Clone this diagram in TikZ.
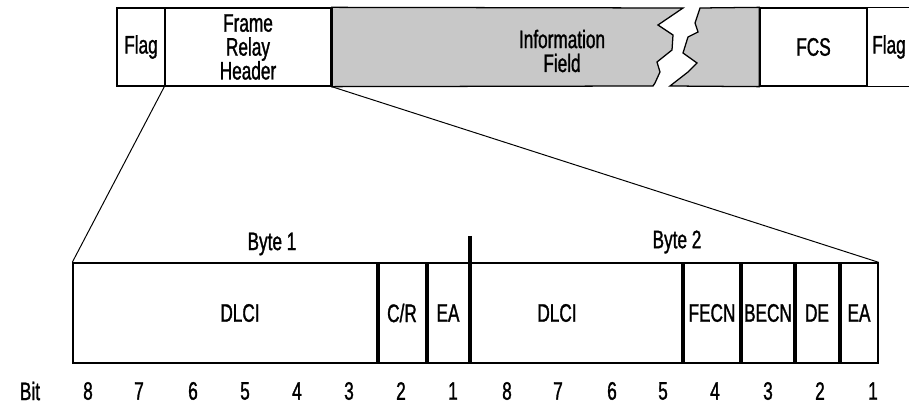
\documentclass[tikz,border=0pt]{standalone}
\usepackage{fontspec}
\setmainfont{Liberation Sans}[FakeStretch=0.68, FakeBold=1.2]
\usepackage{xcolor}
\usepackage{tikz}

\definecolor{infogray}{RGB}{200,200,200}

\begin{document}
\begin{tikzpicture}[
    x=0.025cm, y=-0.025cm,
    font=\fontsize{18}{17}\selectfont,
    every node/.style={inner sep=0pt},
    outline/.style={line width=0.9pt},
    field/.style={draw, outline, minimum height=1.95cm, align=center},
    infofill/.style={fill=infogray, draw, outline},
    cellrule/.style={line width=2.2pt},
    zoomline/.style={line width=0.7pt},
    bytelbl/.style={anchor=center},
]
\useasboundingbox (0,0) rectangle (909,406);

% --------- Frame row (top) ----------
\node[field, minimum width=1.2cm]   (flag1) at (141,47)   {Flag};
\node[field, minimum width=4.15cm]  (hdr)   at (248,47)   {Frame\\Relay\\Header};
\node[field, minimum width=2.675cm] (fcs)   at (813.5,47) {FCS};
\draw[outline] (fcs.north east) -- ++(70,0) (fcs.south east) -- ++(70,0);
\node (flag2) at (889,47) {Flag};

% information field, broken in two
\filldraw[infofill] (hdr.north east) -- (683,8) -- (658,25) -- (673,35) -- (672,50)
      -- (657,62) -- (660,72) -- (655,83) -- (653,86) -- (hdr.south east) -- cycle;
\filldraw[infofill] (700,8) -- (fcs.north west) -- (fcs.south west) -- (670,86)
      -- (688,72) -- (697,63) -- (683,53) -- (688,37) -- (698,32) -- (695,23) -- cycle;
\node[align=center] (info) at (562,51) {Information\\Field};
\draw[cellrule] (hdr.north east) -- (hdr.south east);

% --------- Header bits (bottom) ----------
\node[draw, outline, minimum width=20.125cm, minimum height=2.5cm] (bits) at (475.5,313) {};
\foreach \xx in {378,427,470,683,741,795,840}
  \draw[cellrule] (\xx,263) -- (\xx,363);
\draw[cellrule] (470,236) -- (470,263);

\draw[zoomline] (hdr.south west) -- (bits.north west);
\draw[zoomline] (hdr.south east) -- (bits.north east);

\node[bytelbl] (byte1) at (272,244) {Byte 1};
\node[bytelbl] (byte2) at (677,242) {Byte 2};

\foreach \xx/\txt [count=\i] in {240/DLCI, 402/{C/R}, 448/EA, 557/DLCI,
                                 712/FECN, 768/BECN, 817/DE, 859/EA}
  \node (cell\i) at (\xx,313) {\txt};

% --------- Bit numbers ----------
\node (bitlbl) at (30,391) {Bit};
\foreach \xx/\bit in {88/8, 139/7, 193/6, 245/5, 297/4, 349/3, 401/2, 453/1,
                      507/8, 558/7, 612/6, 663/5, 715/4, 768/3, 820/2, 873/1}
  \node (bit\xx) at (\xx,391) {\bit};

\end{tikzpicture}
\end{document}
